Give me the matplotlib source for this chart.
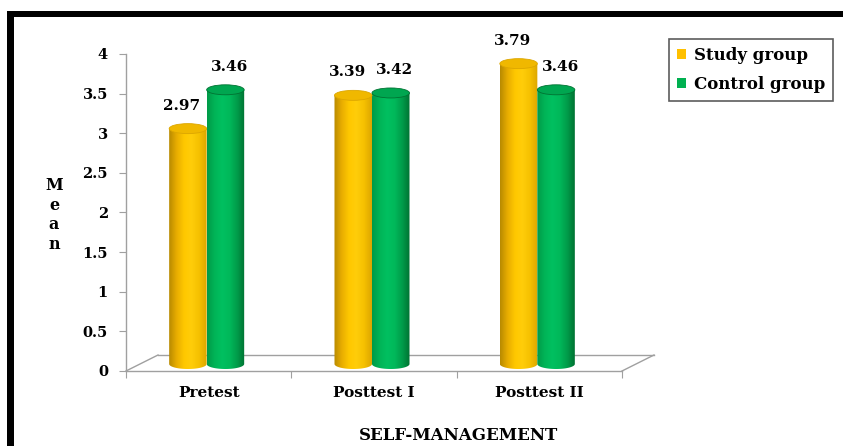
import numpy as np
import matplotlib
matplotlib.use("Agg")
import matplotlib.pyplot as plt
from matplotlib.patches import Ellipse, PathPatch, Rectangle, Patch
from matplotlib.path import Path
from matplotlib.colors import LinearSegmentedColormap
from matplotlib.transforms import offset_copy
from matplotlib.lines import Line2D

# ---- data -------------------------------------------------------------
categories = ["Pretest", "Posttest I", "Posttest II"]
study_group = [2.97, 3.39, 3.79]
control_group = [3.46, 3.42, 3.46]
series_names = ["Study group", "Control group"]
y_ticks = [0, 0.5, 1, 1.5, 2, 2.5, 3, 3.5, 4]
y_tick_labels = ["0", "0.5", "1", "1.5", "2", "2.5", "3", "3.5", "4"]

# ---- style --------------------------------------------------------------
FONT = "DejaVu Serif"
GREY = "#a0a0a0"
yellow_grad = ["#b88a00", "#e8ad00", "#ffc800", "#ffcd0a", "#f5c000", "#dca600"]
green_grad = ["#009a48", "#00b457", "#00c060", "#00b85a", "#009c4a", "#007232"]
yellow_top = "#f0b800"
green_top = "#00a650"
legend_colors = ["#ffc000", "#00b050"]

W, H = 843, 446
fig = plt.figure(figsize=(W / 100, H / 100), dpi=100)
fig.patch.set_facecolor("white")

# black frame along top and left
fig.add_artist(Rectangle((7 / W, 1 - 17 / H), 1 - 7 / W, 6 / H,
                         transform=fig.transFigure, color="black", lw=0))
fig.add_artist(Rectangle((7 / W, 0), 7 / W, 1 - 11 / H,
                         transform=fig.transFigure, color="black", lw=0))

ax = fig.add_axes([126 / W, (H - 371) / H, 496 / W, 317 / H])
ax.set_autoscale_on(False)
ax.set_xlim(0, 3)
ax.set_ylim(0, 4)
ax.patch.set_alpha(0)

for s in ["top", "right", "bottom"]:
    ax.spines[s].set_visible(False)
ax.spines["left"].set_color(GREY)
ax.spines["left"].set_linewidth(1.0)

ax.set_yticks(y_ticks)
ax.set_yticklabels(y_tick_labels, fontfamily=FONT, fontweight="bold", fontsize=10.5)
ax.tick_params(axis="y", length=5, color=GREY, pad=8)
ax.set_xticks([0, 1, 2, 3])
ax.set_xticklabels([])
ax.tick_params(axis="x", which="major", length=5, color=GREY, direction="out")
ax.set_xticks([0.5, 1.5, 2.5], minor=True)
ax.set_xticklabels(categories, minor=True, fontfamily=FONT, fontweight="bold", fontsize=11)
ax.tick_params(axis="x", which="minor", length=0, pad=11)

# 3-D floor
depth_dx, depth_dy = 32, 16
back = offset_copy(ax.transData, fig=fig, x=depth_dx, y=depth_dy, units="dots")
ax.add_line(Line2D([0, 3], [0, 0], color=GREY, lw=1.0, transform=ax.transData, clip_on=False, zorder=1))
ax.add_line(Line2D([0, 3], [0, 0], color=GREY, lw=1.0, transform=back, clip_on=False, zorder=1))
for xe in (0, 3):
    p0 = ax.transData.transform((xe, 0))
    ax.add_line(Line2D([p0[0], p0[0] + depth_dx], [p0[1], p0[1] + depth_dy],
                       color=GREY, lw=1.0, transform=None, clip_on=False, zorder=1))

# cylinders sit half way into the floor depth
mid = offset_copy(ax.transData, fig=fig, x=-2, y=7, units="dots")
px_per_y = ax.transData.transform((0, 1))[1] - ax.transData.transform((0, 0))[1]
px_per_x = ax.transData.transform((1, 0))[0] - ax.transData.transform((0, 0))[0]
bar_w = 37.5 / px_per_x
ry = 5.0 / px_per_y


def cylinder(xc, value, grad_colors, top_color):
    x0, x1 = xc - bar_w / 2, xc + bar_w / 2
    t = np.linspace(np.pi, 2 * np.pi, 40)
    bottom = np.column_stack([xc + bar_w / 2 * np.cos(t), ry * np.sin(t)])
    verts = np.vstack([[[x0, value]], bottom, [[x1, value]], [[x0, value]]])
    codes = [Path.MOVETO] + [Path.LINETO] * (len(verts) - 2) + [Path.CLOSEPOLY]
    body = PathPatch(Path(verts, codes), facecolor="none", edgecolor="none",
                     transform=mid, clip_on=False, zorder=3)
    ax.add_patch(body)
    cmap = LinearSegmentedColormap.from_list("g", grad_colors)
    grad = np.linspace(0, 1, 128)[None, :]
    im = ax.imshow(grad, cmap=cmap, extent=[x0, x1, -ry * 1.2, value],
                   aspect="auto", transform=mid, zorder=3, interpolation="bilinear")
    im.set_clip_path(body)
    ax.add_patch(Ellipse((xc, value), bar_w, 2 * ry, facecolor=top_color,
                         edgecolor=grad_colors[-1], lw=0.6, transform=mid,
                         clip_on=False, zorder=4))


x_centres = np.arange(len(categories)) + 0.5
for i, xc in enumerate(x_centres):
    cylinder(xc - bar_w / 2, study_group[i], yellow_grad, yellow_top)
    cylinder(xc + bar_w / 2, control_group[i], green_grad, green_top)

# value labels
lab_tr_s = offset_copy(ax.transData, fig=fig, x=-8, y=30, units="dots")
lab_tr_c = offset_copy(ax.transData, fig=fig, x=2, y=30, units="dots")
for i, xc in enumerate(x_centres):
    ax.text(xc - bar_w / 2, study_group[i], f"{study_group[i]:.2f}", transform=lab_tr_s,
            ha="center", va="center", fontfamily=FONT, fontweight="bold", fontsize=11)
    ax.text(xc + bar_w / 2, control_group[i], f"{control_group[i]:.2f}", transform=lab_tr_c,
            ha="center", va="center", fontfamily=FONT, fontweight="bold", fontsize=11)

# axis titles
fig.text(54 / W, 1 - 215 / H, "M\ne\na\nn", ha="center", va="center",
         fontfamily=FONT, fontweight="bold", fontsize=11.5, linespacing=1.2)
fig.text(458 / W, 1 - 435 / H, "SELF-MANAGEMENT", ha="center", va="center",
         fontfamily=FONT, fontweight="bold", fontsize=12)

# legend
handles = [Patch(facecolor=c, edgecolor="none") for c in legend_colors]
leg = fig.legend(handles, series_names, loc="upper left",
                 bbox_to_anchor=(669 / W, 1 - 39 / H), borderaxespad=0, frameon=True,
                 prop={"family": FONT, "weight": "bold", "size": 12},
                 handlelength=0.55, handleheight=0.55, handletextpad=0.5,
                 labelspacing=0.75, borderpad=0.45, fancybox=False)
leg.get_frame().set_edgecolor("#333333")
leg.get_frame().set_linewidth(1.2)

fig.savefig("out.png", dpi=100)
